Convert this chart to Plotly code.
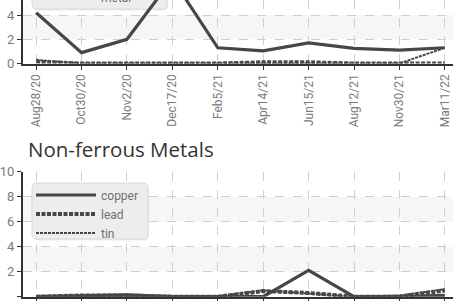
import plotly.graph_objects as go

categories = ["Aug28/20", "Oct30/20", "Nov2/20", "Dec17/20", "Feb5/21",
              "Apr14/21", "Jun15/21", "Aug12/21", "Nov30/21", "Mar11/22"]

# upper panel (its top part is cut off in the reference)
top_names = ["iron ore", "steel", "scrap metal"]
top_solid = [4.2, 0.9, 2.0, 7.0, 1.3, 1.05, 1.7, 1.25, 1.1, 1.3]
top_dotted = [0.15, 0.0, 0.0, 0.0, 0.0, 0.1, 0.1, 0.0, 0.0, 0.0]
top_dashed = [0.3, 0.0, 0.0, 0.0, 0.0, 0.0, 0.0, 0.0, 0.0, 1.3]

# lower panel: Non-ferrous Metals
nf_names = ["copper", "lead", "tin"]
copper = [0.0, 0.05, 0.15, 0.0, 0.0, 0.0, 2.1, 0.0, 0.0, 0.1]
lead = [0.0, 0.1, 0.1, 0.0, 0.0, 0.45, 0.3, 0.0, 0.0, 0.5]
tin = [0.0, 0.0, 0.05, 0.0, 0.05, 0.5, 0.25, 0.0, 0.1, 0.6]

W, H = 453, 301
LINE = "#474747"
GRID = "#cfcfcf"
TICKC = "#7a7a7a"
COND = "Roboto, sans-serif"
XR = [-0.29, 9.18]
PL, PW = 23.0, 430.0

def py(p):  # pixel from top -> paper y
    return 1 - p / H

def px(p):
    return p / W

def cx(p):  # pixel x -> category-axis value
    return XR[0] + (p - PL) / PW * (XR[1] - XR[0])

styles = [dict(width=3.2, dash="solid"),
          dict(width=4, dash="4px,1.5px"),
          dict(width=2, dash="3px,1px")]

fig = go.Figure()
for name, vals, st in zip(top_names, [top_solid, top_dotted, top_dashed], styles):
    fig.add_trace(go.Scatter(x=categories, y=vals, name=name, mode="lines",
                             line=dict(color=LINE, **st), showlegend=False,
                             xaxis="x", yaxis="y"))
for name, vals, st in zip(nf_names, [copper, lead, tin], styles):
    fig.add_trace(go.Scatter(x=categories, y=vals, name=name, mode="lines",
                             line=dict(color=LINE, **st),
                             xaxis="x2", yaxis="y2"))

xcommon = dict(type="category", range=XR, showgrid=True, automargin=False,
               gridcolor=GRID, griddash="dash", gridwidth=1,
               showline=True, linecolor="#333", linewidth=2,
               ticks="outside", ticklen=4, tickcolor="#333", tickangle=-90,
               tickfont=dict(family=COND, size=12, color=TICKC), zeroline=False)
ycommon = dict(showgrid=True, gridcolor=GRID, griddash="dash", gridwidth=1,
               automargin=False,
               showline=True, linecolor="#333", linewidth=2, dtick=2, tick0=0,
               ticks="outside", ticklen=4, tickcolor="#333",
               tickfont=dict(family=COND, size=13, color=TICKC), zeroline=False)

xdom = [px(PL), 1]
fig.update_layout(
    width=W, height=H, margin=dict(l=0, r=0, t=0, b=0, autoexpand=False),
    paper_bgcolor="white", plot_bgcolor="white",
    xaxis=dict(domain=xdom, anchor="y", **xcommon),
    yaxis=dict(domain=[py(63.5), 1], range=[0, 63.5 / 12.1], anchor="x", **ycommon),
    xaxis2=dict(domain=xdom, anchor="y2", **xcommon),
    yaxis2=dict(domain=[py(296.7), py(171.7)], range=[0, 10], anchor="x2", **ycommon),
    legend=dict(x=px(31), y=py(180.5), xanchor="left", yanchor="top",
                bgcolor="rgba(0,0,0,0)", borderwidth=0, itemwidth=60,
                font=dict(family=COND, size=12, color="#707070"),
                tracegroupgap=0),
    showlegend=True,
)

# alternating bands
for ya, xa, bands in (("y", "x", [(2, 4)]), ("y2", "x2", [(2, 4), (6, 8)])):
    for a, b in bands:
        fig.add_shape(type="rect", xref=xa, yref=ya, x0=XR[0], x1=XR[1], y0=a, y1=b,
                      fillcolor="#f6f6f6", line_width=0, layer="below")

def rounded_box(x0p, x1p, top_val, bot_val, rpx, ppu):
    k = (XR[1] - XR[0]) / PW
    rx = rpx * k
    ry = rpx / ppu
    x0, x1 = cx(x0p), cx(x1p)
    return (f"M{x0 + rx},{bot_val} L{x1 - rx},{bot_val} Q{x1},{bot_val} {x1},{bot_val + ry} "
            f"L{x1},{top_val - ry} Q{x1},{top_val} {x1 - rx},{top_val} "
            f"L{x0 + rx},{top_val} Q{x0},{top_val} {x0},{top_val - ry} "
            f"L{x0},{bot_val + ry} Q{x0},{bot_val} {x0 + rx},{bot_val} Z")

# legend box of the cut-off upper panel
ppu_top = 12.1
v = lambda p: (63.5 - p) / ppu_top
fig.add_shape(type="path", xref="x", yref="y",
              path=rounded_box(33, 168, v(-30), v(10.5), 5, ppu_top),
              fillcolor="rgba(0,0,0,0.07)", line_width=0, layer="between")
fig.add_shape(type="path", xref="x", yref="y",
              path=rounded_box(32, 167, v(-30), v(9), 5, ppu_top),
              fillcolor="#ededed", line=dict(color="#d9d9d9", width=1), layer="between")

# legend box of lower panel
ppu_b = 12.5
vb = lambda p: (296.7 - p) / ppu_b
fig.add_shape(type="path", xref="x2", yref="y2",
              path=rounded_box(33, 149, vb(184), vb(240.5), 5, ppu_b),
              fillcolor="rgba(0,0,0,0.07)", line_width=0, layer="between")
fig.add_shape(type="path", xref="x2", yref="y2",
              path=rounded_box(32, 148, vb(183), vb(239), 5, ppu_b),
              fillcolor="#ededed", line=dict(color="#d9d9d9", width=1), layer="between")

fig.add_annotation(text="metal", xref="paper", yref="paper", x=px(99), y=py(7),
                   xanchor="left", yanchor="bottom", showarrow=False,
                   font=dict(family=COND, size=12, color="#707070"))
fig.add_annotation(text="Non-ferrous Metals", xref="paper", yref="paper",
                   x=px(121), y=py(149), xanchor="center", yanchor="middle",
                   showarrow=False, font=dict(family="Open Sans, sans-serif", size=20.5, color="#333"))
for yc in (14, 233):
    fig.add_annotation(text="%", xref="paper", yref="paper", x=px(3), y=py(yc),
                       xanchor="right", yanchor="middle", textangle=-90, showarrow=False,
                       font=dict(family=COND, size=13, color=TICKC))

fig.write_html("out.html", config={"displayModeBar": False},
               post_script="document.body.style.margin='0';")
